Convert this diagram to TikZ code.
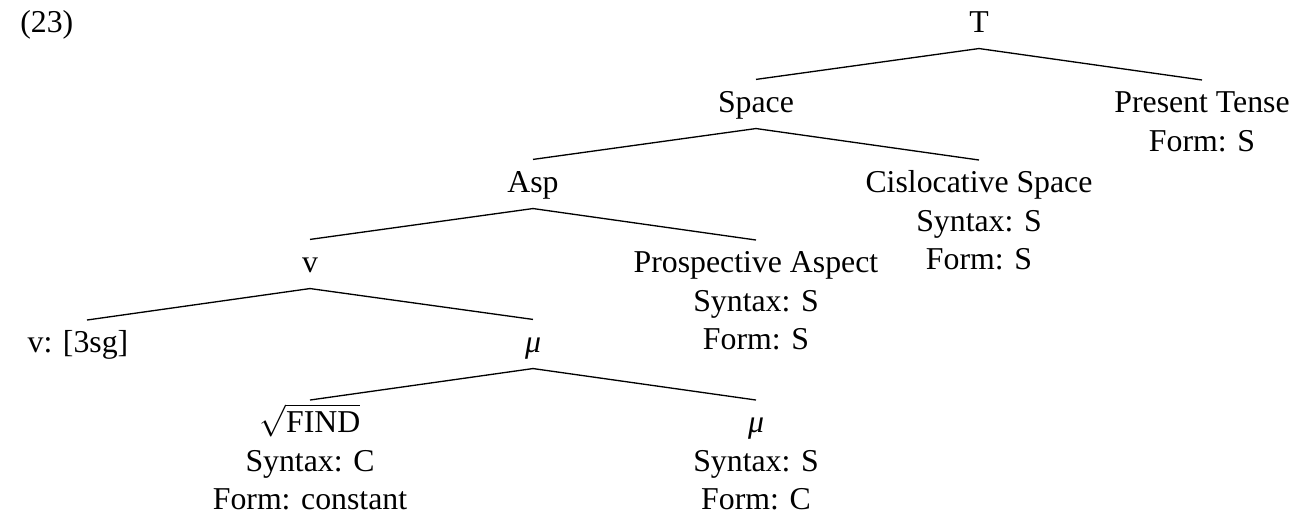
\documentclass[tikz,border=0pt]{standalone}
\usepackage{fontspec}
\setmainfont{Liberation Serif}
\usetikzlibrary{positioning}
\newcommand\topline[1]{\raisebox{0pt}[8.4pt][0pt]{#1}}

\begin{document}
\begin{tikzpicture}[x=84.15pt,y=30.19pt,
  every node/.style={font=\fontsize{12}{14.5}\selectfont},
  cat/.style={anchor=base,inner sep=3.7pt,text height=8.4pt,text depth=2.34pt},
  leaf/.style={anchor=north,inner sep=3.7pt,align=center},
  branch/.style={line width=0.5pt}]
\useasboundingbox(-0.3901,0.4)rectangle(5.4395,-6.0125);
\node[anchor=base west](ex)at(-0.3408,0){(23)};
% categories
\node[cat](T)at(4,0){T};
\node[cat](Space)at(3,-1){Space};
\node[cat](Asp)at(2,-2){Asp};
\node[cat](v)at(1,-3){v};
\node[cat](mu)at(2,-4){\textit{μ}};
% features
\node[leaf](Pres)at(5,-0.6){\topline{Present Tense}\\Form: S};
\node[leaf](Cis)at(4,-1.6){\topline{Cislocative Space}\\Syntax: S\\Form: S};
\node[leaf](Prosp)at(3,-2.6){\topline{Prospective Aspect}\\Syntax: S\\Form: S};
\node[leaf,xshift=-3.4pt](vfeat)at(0,-3.6){\topline{v: [3sg]}};
\node[leaf](find)at(1,-4.6){\topline{$\sqrt{\mbox{FIND}}$}\\Syntax: C\\Form: constant};
\node[leaf](muleaf)at(3,-4.6){\topline{\textit{μ}}\\Syntax: S\\Form: C};
% branches
\draw[branch](Space.north)--(T.south)--(Pres.north);
\draw[branch](Asp.north)--(Space.south)--(Cis.north);
\draw[branch](v.north)--(Asp.south)--(Prosp.north);
\draw[branch]([xshift=3.4pt]vfeat.north)--(v.south)--(mu.north);
\draw[branch](find.north)--(mu.south)--(muleaf.north);
\end{tikzpicture}
\end{document}
